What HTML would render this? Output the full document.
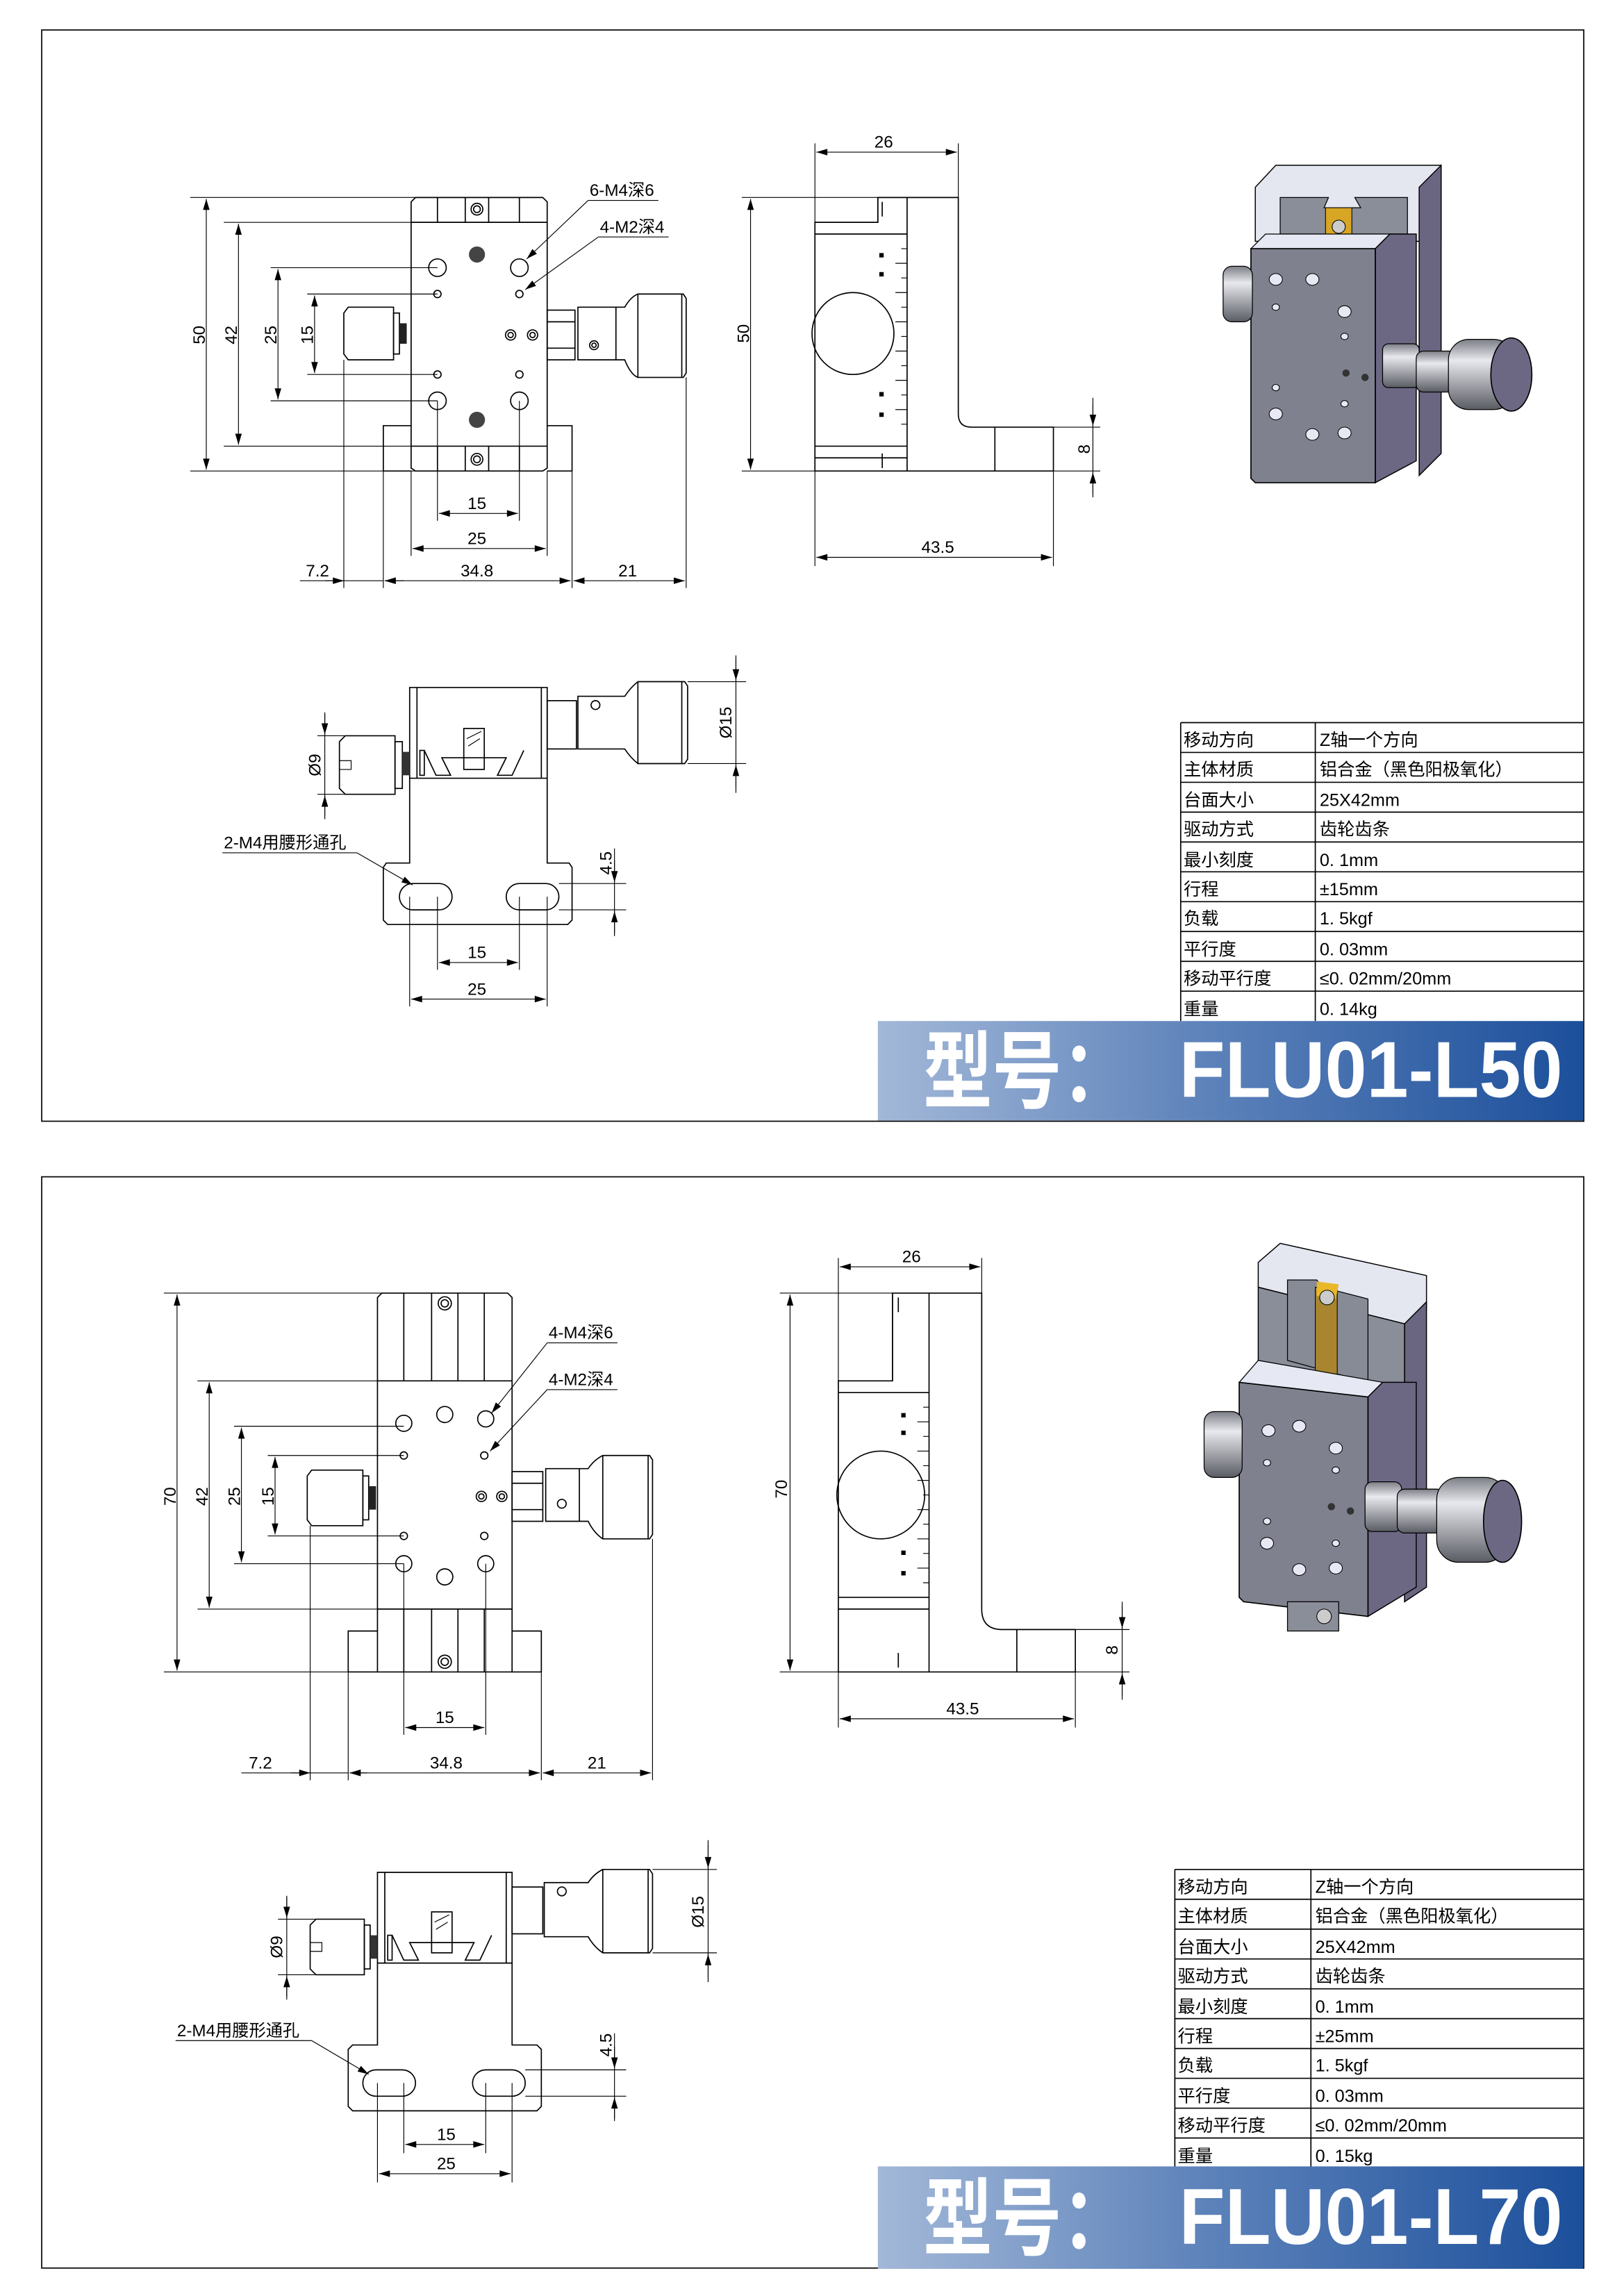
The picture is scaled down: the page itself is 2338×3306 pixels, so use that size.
<!DOCTYPE html>
<html><head><meta charset="utf-8"><style>
html,body{margin:0;padding:0;background:#fff;}
svg{display:block;}
.l{fill:none;stroke:#000;stroke-width:0.8;}
.t{stroke:#000;stroke-width:0.55;fill:none;}
.d{stroke:#000;stroke-width:0.55;fill:none;marker-start:url(#a);marker-end:url(#a);}
.tx{font-family:"Liberation Sans","Noto Sans CJK SC",sans-serif;font-size:11.5px;fill:#000;}
.tb{font-family:"Liberation Sans","Noto Sans CJK SC",sans-serif;font-size:12px;fill:#000;}
.bn{font-family:"Liberation Sans","Noto Sans CJK SC",sans-serif;font-weight:bold;fill:#fff;}
</style></head><body>
<svg width="2338" height="3306" viewBox="0 0 1110 1569.6" preserveAspectRatio="none" xmlns="http://www.w3.org/2000/svg">
<defs>
<marker id="a" viewBox="0 0 10 6" refX="10" refY="3" markerWidth="12" markerHeight="4.5" markerUnits="userSpaceOnUse" orient="auto-start-reverse"><path d="M10,3 L0,0 L0,6 Z" fill="#000"/></marker>
<linearGradient id="g" x1="0" x2="1" y1="0" y2="0"><stop offset="0" stop-color="#a3b8d8"/><stop offset="0.45" stop-color="#5f84bb"/><stop offset="1" stop-color="#1c4f9b"/></linearGradient>
<linearGradient id="kn" x1="0" x2="0" y1="0" y2="1"><stop offset="0" stop-color="#7c7e86"/><stop offset="0.3" stop-color="#e8e9ee"/><stop offset="1" stop-color="#5a5c64"/></linearGradient>
</defs>
<rect width="1110" height="1570" fill="#fff"/>

<!-- ================= FRAME 1 ================= -->
<rect x="28.5" y="20.5" width="1054" height="746" class="l"/>

<!-- front view 1 -->
<g>
<path class="l" d="M284,135 L371,135 L374,138 L374,320 L371,322 L284,322 L281,320 L281,138 Z"/>
<line class="l" x1="281" y1="152" x2="374" y2="152"/><line class="l" x1="281" y1="305" x2="374" y2="305"/>
<line class="l" x1="299" y1="135" x2="299" y2="152"/><line class="l" x1="318" y1="135" x2="318" y2="152"/><line class="l" x1="334" y1="135" x2="334" y2="152"/><line class="l" x1="355" y1="135" x2="355" y2="152"/>
<line class="l" x1="299" y1="305" x2="299" y2="322"/><line class="l" x1="318" y1="305" x2="318" y2="322"/><line class="l" x1="334" y1="305" x2="334" y2="322"/><line class="l" x1="355" y1="305" x2="355" y2="322"/>
<circle class="l" cx="326" cy="143" r="4"/><circle class="l" cx="326" cy="143" r="2.3"/>
<circle class="l" cx="326" cy="314" r="4"/><circle class="l" cx="326" cy="314" r="2.3"/>
<path class="l" d="M281,291 L262,291 L262,322 L281,322 M374,291 L391,291 L391,322 L374,322"/>
<circle class="l" cx="299" cy="183" r="6"/><circle class="l" cx="355" cy="183" r="6"/><circle class="l" cx="299" cy="274" r="6"/><circle class="l" cx="355" cy="274" r="6"/>
<circle class="l" cx="299" cy="201" r="2.5"/><circle class="l" cx="355" cy="201" r="2.5"/><circle class="l" cx="299" cy="256" r="2.5"/><circle class="l" cx="355" cy="256" r="2.5"/>
<circle cx="326" cy="174" r="5.5" fill="#444"/><circle cx="326" cy="287" r="5.5" fill="#444"/>
<circle class="l" cx="349" cy="229" r="3.5"/><circle class="l" cx="349" cy="229" r="1.8"/><circle class="l" cx="364" cy="229" r="3.5"/><circle class="l" cx="364" cy="229" r="1.8"/>
<path class="l" d="M238,210 L269,210 L269,246 L238,246 L235,242 L235,214 Z"/><rect class="l" x="269" y="214" width="4" height="28"/><rect x="273" y="221" width="5" height="14" fill="#222"/>
<rect class="l" x="374" y="212" width="19" height="34"/><line class="l" x1="374" y1="220" x2="393" y2="220"/><line class="l" x1="374" y1="238" x2="393" y2="238"/>
<path class="l" d="M395,210 L427,210 Q431,203 436,201 L467,201 L469,204 L469,255 L467,258 L436,258 Q431,256 427,246 L395,246 Z"/>
<line class="l" x1="436" y1="201" x2="436" y2="258"/><line class="l" x1="466" y1="201" x2="466" y2="258"/><line class="l" x1="421" y1="210" x2="421" y2="246"/>
<circle class="l" cx="406" cy="236" r="3"/><circle class="l" cx="406" cy="236" r="1.5"/>
<!-- dims -->
<line class="t" x1="130" y1="135" x2="284" y2="135"/><line class="t" x1="130" y1="322" x2="284" y2="322"/>
<line class="d" x1="141" y1="136" x2="141" y2="321"/>
<line class="t" x1="153" y1="152" x2="281" y2="152"/><line class="t" x1="153" y1="305" x2="281" y2="305"/>
<line class="d" x1="163" y1="153" x2="163" y2="304"/>
<line class="t" x1="185" y1="183" x2="299" y2="183"/><line class="t" x1="185" y1="274" x2="299" y2="274"/>
<line class="d" x1="190" y1="184" x2="190" y2="273"/>
<line class="t" x1="210" y1="201" x2="299" y2="201"/><line class="t" x1="210" y1="256" x2="299" y2="256"/>
<line class="d" x1="215" y1="202" x2="215" y2="255"/>
<text class="tx" transform="translate(140,229) rotate(-90)" text-anchor="middle">50</text>
<text class="tx" transform="translate(162,229) rotate(-90)" text-anchor="middle">42</text>
<text class="tx" transform="translate(189,229) rotate(-90)" text-anchor="middle">25</text>
<text class="tx" transform="translate(214,229) rotate(-90)" text-anchor="middle">15</text>
<line class="t" x1="299" y1="274" x2="299" y2="356"/><line class="t" x1="355" y1="274" x2="355" y2="356"/>
<line class="d" x1="300" y1="351" x2="354" y2="351"/><text class="tx" x="326" y="348" text-anchor="middle">15</text>
<line class="t" x1="281" y1="322" x2="281" y2="380"/><line class="t" x1="374" y1="322" x2="374" y2="380"/>
<line class="d" x1="282" y1="375" x2="373" y2="375"/><text class="tx" x="326" y="372" text-anchor="middle">25</text>
<line class="t" x1="235" y1="246" x2="235" y2="402"/><line class="t" x1="262" y1="322" x2="262" y2="402"/><line class="t" x1="391" y1="322" x2="391" y2="402"/><line class="t" x1="469" y1="258" x2="469" y2="402"/>
<line class="t" x1="205" y1="397" x2="262" y2="397"/><line class="d" style="marker-start:none" x1="222" y1="397" x2="235" y2="397"/><line class="d" style="marker-start:none" x1="276" y1="397" x2="263" y2="397"/>
<line class="d" x1="263" y1="397" x2="390" y2="397"/><line class="d" x1="392" y1="397" x2="468" y2="397"/>
<text class="tx" x="217" y="394" text-anchor="middle">7.2</text><text class="tx" x="326" y="394" text-anchor="middle">34.8</text><text class="tx" x="429" y="394" text-anchor="middle">21</text>
<line class="t" x1="402" y1="137" x2="450" y2="137"/><line class="d" style="marker-start:none" x1="402" y1="137" x2="360" y2="177"/>
<text class="tx" x="403" y="134">6-M4深6</text>
<line class="t" x1="409" y1="162" x2="457" y2="162"/><line class="d" style="marker-start:none" x1="409" y1="162" x2="359" y2="198"/>
<text class="tx" x="410" y="159">4-M2深4</text>
</g>

<!-- side view 1 -->
<g>
<path class="l" d="M557,152 L600,152 L600,135 L655,135 L655,283 Q655,292 664,292 L720,292 L720,322 L557,322 Z"/>
<line class="l" x1="557" y1="160" x2="620" y2="160"/><line class="l" x1="557" y1="305" x2="620" y2="305"/><line class="l" x1="557" y1="313" x2="620" y2="313"/>
<line class="l" x1="620" y1="135" x2="620" y2="322"/><line class="l" x1="600" y1="135" x2="600" y2="152"/>
<line class="l" x1="603" y1="138" x2="603" y2="148"/><line class="l" x1="603" y1="310" x2="603" y2="320"/>
<circle class="l" cx="583" cy="228" r="28"/>
<line class="l" x1="680" y1="292" x2="680" y2="322"/>
<path class="t" d="M616,170 L620,170 M612,180 L620,180 M616,190 L620,190 M612,200 L620,200 M616,210 L620,210 M612,220 L620,220 M616,230 L620,230 M612,240 L620,240 M616,250 L620,250 M612,260 L620,260 M616,270 L620,270 M612,280 L620,280 M616,290 L620,290"/>
<rect x="601" y="173" width="3" height="3" fill="#000"/><rect x="601" y="186" width="3" height="3" fill="#000"/><rect x="601" y="268" width="3" height="3" fill="#000"/><rect x="601" y="282" width="3" height="3" fill="#000"/>
<line class="t" x1="557" y1="98" x2="557" y2="152"/><line class="t" x1="655" y1="98" x2="655" y2="135"/>
<line class="d" x1="558" y1="104" x2="654" y2="104"/><text class="tx" x="604" y="101" text-anchor="middle">26</text>
<line class="t" x1="507" y1="135" x2="600" y2="135"/><line class="t" x1="507" y1="322" x2="557" y2="322"/>
<line class="d" x1="513" y1="136" x2="513" y2="321"/><text class="tx" transform="translate(512,228) rotate(-90)" text-anchor="middle">50</text>
<line class="t" x1="720" y1="292" x2="752" y2="292"/><line class="t" x1="720" y1="322" x2="752" y2="322"/>
<line class="t" x1="747" y1="272" x2="747" y2="340"/><line class="d" style="marker-start:none" x1="747" y1="276" x2="747" y2="291"/><line class="d" style="marker-start:none" x1="747" y1="338" x2="747" y2="323"/>
<text class="tx" transform="translate(745,307) rotate(-90)" text-anchor="middle">8</text>
<line class="t" x1="557" y1="322" x2="557" y2="387"/><line class="t" x1="720" y1="322" x2="720" y2="387"/>
<line class="d" x1="558" y1="381" x2="719" y2="381"/><text class="tx" x="641" y="378" text-anchor="middle">43.5</text>
</g>

<!-- top view 1 -->
<g>
<path class="l" d="M280,470 L374,470 L374,590 L389,590 L391,593 L391,629 L388,632 L265,632 L262,629 L262,593 L264,590 L280,590 Z"/>
<line class="l" x1="285" y1="470" x2="285" y2="532"/><line class="l" x1="370" y1="470" x2="370" y2="532"/>
<line class="l" x1="280" y1="532" x2="374" y2="532"/>
<rect class="l" x="273" y="604" width="36" height="18" rx="9"/><rect class="l" x="346" y="604" width="36" height="18" rx="9"/>
<path class="l" d="M290,513 L298,530 L308,530 L302,518 L346,518 L340,530 L350,530 L358,513"/>
<rect class="l" x="317" y="498" width="14" height="28"/><path class="t" d="M319,505 L329,500 M320,510 L328,505"/>
<rect class="l" x="287" y="513" width="3" height="17"/>
<path class="l" d="M236,503 L270,503 L270,543 L236,543 L232,539 L232,507 Z"/><path class="t" d="M232,520 L240,520 L240,526 L232,526"/><rect class="l" x="270" y="507" width="5" height="32"/><rect x="275" y="514" width="5" height="16" fill="#333"/>
<rect class="l" x="374" y="479" width="20" height="33"/>
<path class="l" d="M395,476 L427,476 Q431,470 436,466 L468,466 L470,469 L470,519 L468,522 L436,522 Q431,518 427,512 L395,512 Z"/>
<line class="l" x1="436" y1="466" x2="436" y2="522"/><line class="l" x1="466" y1="466" x2="466" y2="522"/>
<circle class="l" cx="407" cy="482" r="3"/>
<line class="t" x1="470" y1="466" x2="510" y2="466"/><line class="t" x1="470" y1="522" x2="510" y2="522"/>
<line class="t" x1="503" y1="448" x2="503" y2="542"/><line class="d" style="marker-start:none" x1="503" y1="450" x2="503" y2="465"/><line class="d" style="marker-start:none" x1="503" y1="538" x2="503" y2="523"/>
<text class="tx" transform="translate(500,494) rotate(-90)" text-anchor="middle">Ø15</text>
<line class="t" x1="217" y1="503" x2="236" y2="503"/><line class="t" x1="217" y1="543" x2="236" y2="543"/>
<line class="t" x1="222" y1="487" x2="222" y2="560"/><line class="d" style="marker-start:none" x1="222" y1="488" x2="222" y2="502"/><line class="d" style="marker-start:none" x1="222" y1="558" x2="222" y2="544"/>
<text class="tx" transform="translate(219,523) rotate(-90)" text-anchor="middle">Ø9</text>
<line class="t" x1="382" y1="604" x2="428" y2="604"/><line class="t" x1="382" y1="622" x2="428" y2="622"/>
<line class="t" x1="420" y1="580" x2="420" y2="640"/><line class="d" style="marker-start:none" x1="420" y1="588" x2="420" y2="603"/><line class="d" style="marker-start:none" x1="420" y1="638" x2="420" y2="623"/>
<text class="tx" transform="translate(418,590) rotate(-90)" text-anchor="middle">4.5</text>
<line class="t" x1="280" y1="613" x2="280" y2="688"/><line class="t" x1="299" y1="613" x2="299" y2="663"/><line class="t" x1="355" y1="613" x2="355" y2="663"/><line class="t" x1="374" y1="613" x2="374" y2="688"/>
<line class="d" x1="300" y1="658" x2="354" y2="658"/><text class="tx" x="326" y="655" text-anchor="middle">15</text>
<line class="d" x1="281" y1="683" x2="373" y2="683"/><text class="tx" x="326" y="680" text-anchor="middle">25</text>
<line class="t" x1="152" y1="583" x2="244" y2="583"/><line class="d" style="marker-start:none" x1="244" y1="583" x2="282" y2="605"/>
<text class="tx" x="153" y="580">2-M4用腰形通孔</text>
</g>

<!-- 3D model 1 -->
<g>
<polygon points="858,128 872,113 985,113 985,165 858,165" fill="#e4e6f0" stroke="#000" stroke-width="0.7"/>
<polygon points="970,128 985,113 985,310 970,325" fill="#6a6580" stroke="#000" stroke-width="0.7"/>
<polygon points="875,135 908,135 905,142 930,142 926,135 962,135 962,160 875,160" fill="#8a8e99" stroke="#000" stroke-width="0.6"/>
<rect x="906" y="142" width="18" height="22" fill="#d8a625" stroke="#000" stroke-width="0.5"/>
<circle cx="915" cy="155" r="4.5" fill="#ccc" stroke="#000" stroke-width="0.5"/>
<polygon points="855,170 865,160 950,160 940,170" fill="#e6e8f4" stroke="#000" stroke-width="0.6"/>
<polygon points="940,170 950,160 968,160 968,315 940,330" fill="#6c6884" stroke="#000" stroke-width="0.7"/>
<polygon points="855,170 940,170 940,330 858,330 855,327" fill="#7f828e" stroke="#000" stroke-width="0.8"/>
<rect x="836" y="182" width="20" height="38" rx="6" fill="url(#kn)" stroke="#000" stroke-width="0.6"/>
<g fill="#e7e8f4" stroke="#000" stroke-width="0.5">
<ellipse cx="872" cy="191" rx="4.5" ry="4"/><ellipse cx="897" cy="191" rx="4.5" ry="4"/><ellipse cx="919" cy="213" rx="4.5" ry="4"/>
<ellipse cx="872" cy="210" rx="2.5" ry="2.2"/><ellipse cx="919" cy="230" rx="2.5" ry="2.2"/>
<ellipse cx="872" cy="265" rx="2.5" ry="2.2"/><ellipse cx="919" cy="276" rx="2.5" ry="2.2"/>
<ellipse cx="872" cy="283" rx="4.5" ry="4"/><ellipse cx="897" cy="297" rx="4.5" ry="4"/><ellipse cx="919" cy="296" rx="4.5" ry="4"/>
</g>
<circle cx="920" cy="255" r="2.5" fill="#333"/><circle cx="933" cy="258" r="2.5" fill="#333"/>
<rect x="945" y="235" width="25" height="30" rx="4" fill="url(#kn)" stroke="#000" stroke-width="0.6"/>
<rect x="968" y="240" width="30" height="28" rx="5" fill="url(#kn)" stroke="#000" stroke-width="0.6"/>
<rect x="990" y="232" width="45" height="48" rx="14" fill="url(#kn)" stroke="#000" stroke-width="0.6"/>
<ellipse cx="1033" cy="256" rx="14" ry="25" fill="#6c6884" stroke="#000" stroke-width="0.8"/>
</g>

<!-- table 1 -->
<g>
<path class="t" style="stroke-width:0.8" d="M807,494 H1082 M807,514.4 H1082 M807,534.8 H1082 M807,555.2 H1082 M807,575.6 H1082 M807,596 H1082 M807,616.4 H1082 M807,636.8 H1082 M807,657.2 H1082 M807,677.6 H1082 M807,494 V698 M899,494 V698"/>
<g class="tb">
<text x="809" y="510">移动方向</text><text x="902" y="510">Z轴一个方向</text>
<text x="809" y="530">主体材质</text><text x="902" y="530">铝合金（黑色阳极氧化）</text>
<text x="809" y="551">台面大小</text><text x="902" y="551">25X42mm</text>
<text x="809" y="571">驱动方式</text><text x="902" y="571">齿轮齿条</text>
<text x="809" y="592">最小刻度</text><text x="902" y="592">0. 1mm</text>
<text x="809" y="612">行程</text><text x="902" y="612">±15mm</text>
<text x="809" y="632">负载</text><text x="902" y="632">1. 5kgf</text>
<text x="809" y="653">平行度</text><text x="902" y="653">0. 03mm</text>
<text x="809" y="673">移动平行度</text><text x="902" y="673">≤0. 02mm/20mm</text>
<text x="809" y="694">重量</text><text x="902" y="694">0. 14kg</text>
</g>
<rect x="600" y="698" width="482" height="68" fill="url(#g)"/>
<text class="bn" x="631" y="753" font-size="58" textLength="142" lengthAdjust="spacingAndGlyphs">型号：</text>
<text class="bn" x="806" y="750" font-size="54" textLength="262" lengthAdjust="spacingAndGlyphs">FLU01-L50</text>
</g>

<!-- ================= FRAME 2 ================= -->
<rect x="28.5" y="804.5" width="1054" height="746" class="l"/>

<!-- front view 2 -->
<g>
<path class="l" d="M261,884 L347,884 L350,887 L350,1143 L258,1143 L258,887 Z"/>
<line class="l" x1="258" y1="944" x2="350" y2="944"/><line class="l" x1="258" y1="1100" x2="350" y2="1100"/>
<line class="l" x1="276" y1="884" x2="276" y2="944"/><line class="l" x1="295" y1="884" x2="295" y2="944"/><line class="l" x1="313" y1="884" x2="313" y2="944"/><line class="l" x1="331" y1="884" x2="331" y2="944"/>
<line class="l" x1="276" y1="1100" x2="276" y2="1143"/><line class="l" x1="295" y1="1100" x2="295" y2="1143"/><line class="l" x1="313" y1="1100" x2="313" y2="1143"/><line class="l" x1="331" y1="1100" x2="331" y2="1143"/>
<circle class="l" cx="304" cy="891" r="4.5"/><circle class="l" cx="304" cy="891" r="2.5"/>
<circle class="l" cx="304" cy="1136" r="4.5"/><circle class="l" cx="304" cy="1136" r="2.5"/>
<path class="l" d="M258,1115 L238,1115 L238,1143 L258,1143 M350,1115 L370,1115 L370,1143 L350,1143"/>
<circle class="l" cx="276" cy="973" r="5.5"/><circle class="l" cx="332" cy="970" r="5.5"/><circle class="l" cx="304" cy="967" r="5.5"/>
<circle class="l" cx="276" cy="1069" r="5.5"/><circle class="l" cx="332" cy="1069" r="5.5"/><circle class="l" cx="304" cy="1078" r="5.5"/>
<circle class="l" cx="276" cy="995" r="2.5"/><circle class="l" cx="331" cy="995" r="2.5"/><circle class="l" cx="276" cy="1050" r="2.5"/><circle class="l" cx="331" cy="1050" r="2.5"/>
<circle class="l" cx="329" cy="1023" r="3.5"/><circle class="l" cx="329" cy="1023" r="1.8"/><circle class="l" cx="343" cy="1023" r="3.5"/><circle class="l" cx="343" cy="1023" r="1.8"/>
<path class="l" d="M213,1005 L248,1005 L248,1043 L213,1043 L210,1039 L210,1009 Z"/><rect class="l" x="248" y="1009" width="4" height="30"/><rect x="252" y="1016" width="5" height="16" fill="#222"/>
<rect class="l" x="350" y="1006" width="21" height="34"/><line class="l" x1="350" y1="1014" x2="371" y2="1014"/><line class="l" x1="350" y1="1032" x2="371" y2="1032"/>
<path class="l" d="M373,1004 L402,1004 Q406,998 412,995 L444,995 L446,998 L446,1049 L444,1052 L412,1052 Q406,1048 402,1040 L373,1040 Z"/>
<line class="l" x1="412" y1="995" x2="412" y2="1052"/><line class="l" x1="443" y1="995" x2="443" y2="1052"/><line class="l" x1="396" y1="1004" x2="396" y2="1040"/>
<circle class="l" cx="384" cy="1028" r="3"/>
<line class="t" x1="112" y1="884" x2="261" y2="884"/><line class="t" x1="112" y1="1143" x2="258" y2="1143"/>
<line class="d" x1="121" y1="885" x2="121" y2="1142"/>
<line class="t" x1="135" y1="944" x2="258" y2="944"/><line class="t" x1="135" y1="1100" x2="258" y2="1100"/>
<line class="d" x1="143" y1="945" x2="143" y2="1099"/>
<line class="t" x1="160" y1="975" x2="276" y2="975"/><line class="t" x1="160" y1="1069" x2="276" y2="1069"/>
<line class="d" x1="165" y1="976" x2="165" y2="1068"/>
<line class="t" x1="183" y1="995" x2="276" y2="995"/><line class="t" x1="183" y1="1050" x2="276" y2="1050"/>
<line class="d" x1="188" y1="996" x2="188" y2="1049"/>
<text class="tx" transform="translate(120,1023) rotate(-90)" text-anchor="middle">70</text>
<text class="tx" transform="translate(142,1023) rotate(-90)" text-anchor="middle">42</text>
<text class="tx" transform="translate(164,1023) rotate(-90)" text-anchor="middle">25</text>
<text class="tx" transform="translate(187,1023) rotate(-90)" text-anchor="middle">15</text>
<line class="t" x1="276" y1="1069" x2="276" y2="1186"/><line class="t" x1="332" y1="1069" x2="332" y2="1186"/>
<line class="d" x1="277" y1="1181" x2="331" y2="1181"/><text class="tx" x="304" y="1178" text-anchor="middle">15</text>
<line class="t" x1="212" y1="1043" x2="212" y2="1217"/><line class="t" x1="238" y1="1143" x2="238" y2="1217"/><line class="t" x1="370" y1="1143" x2="370" y2="1217"/><line class="t" x1="446" y1="1052" x2="446" y2="1217"/>
<line class="t" x1="165" y1="1212" x2="238" y2="1212"/><line class="d" style="marker-start:none" x1="199" y1="1212" x2="212" y2="1212"/><line class="d" style="marker-start:none" x1="251" y1="1212" x2="239" y2="1212"/>
<line class="d" x1="239" y1="1212" x2="369" y2="1212"/><line class="d" x1="371" y1="1212" x2="445" y2="1212"/>
<text class="tx" x="178" y="1209" text-anchor="middle">7.2</text><text class="tx" x="305" y="1209" text-anchor="middle">34.8</text><text class="tx" x="408" y="1209" text-anchor="middle">21</text>
<line class="t" x1="374" y1="918" x2="422" y2="918"/><line class="d" style="marker-start:none" x1="374" y1="918" x2="336" y2="966"/>
<text class="tx" x="375" y="915">4-M4深6</text>
<line class="t" x1="374" y1="950" x2="422" y2="950"/><line class="d" style="marker-start:none" x1="374" y1="950" x2="335" y2="992"/>
<text class="tx" x="375" y="947">4-M2深4</text>
</g>

<!-- side view 2 -->
<g>
<path class="l" d="M573,944 L610,944 L610,884 L671,884 L671,1100 Q671,1114 685,1114 L735,1114 L735,1143 L573,1143 Z"/>
<line class="l" x1="573" y1="952" x2="635" y2="952"/><line class="l" x1="573" y1="1092" x2="635" y2="1092"/><line class="l" x1="573" y1="1100" x2="635" y2="1100"/>
<line class="l" x1="635" y1="884" x2="635" y2="1143"/><line class="l" x1="610" y1="884" x2="610" y2="944"/>
<line class="l" x1="614" y1="887" x2="614" y2="897"/><line class="l" x1="614" y1="1130" x2="614" y2="1140"/>
<circle class="l" cx="602" cy="1022" r="30"/>
<line class="l" x1="695" y1="1114" x2="695" y2="1143"/>
<path class="t" d="M631,962 L635,962 M627,972 L635,972 M631,982 L635,982 M627,992 L635,992 M631,1002 L635,1002 M627,1012 L635,1012 M631,1022 L635,1022 M627,1032 L635,1032 M631,1042 L635,1042 M627,1052 L635,1052 M631,1062 L635,1062 M627,1072 L635,1072 M631,1082 L635,1082"/>
<rect x="616" y="966" width="3" height="3" fill="#000"/><rect x="616" y="978" width="3" height="3" fill="#000"/><rect x="616" y="1060" width="3" height="3" fill="#000"/><rect x="616" y="1074" width="3" height="3" fill="#000"/>
<line class="t" x1="573" y1="860" x2="573" y2="944"/><line class="t" x1="671" y1="860" x2="671" y2="884"/>
<line class="d" x1="574" y1="866" x2="670" y2="866"/><text class="tx" x="623" y="863" text-anchor="middle">26</text>
<line class="t" x1="533" y1="884" x2="610" y2="884"/><line class="t" x1="533" y1="1143" x2="573" y2="1143"/>
<line class="d" x1="540" y1="885" x2="540" y2="1142"/><text class="tx" transform="translate(538,1018) rotate(-90)" text-anchor="middle">70</text>
<line class="t" x1="735" y1="1114" x2="772" y2="1114"/><line class="t" x1="735" y1="1143" x2="772" y2="1143"/>
<line class="t" x1="767" y1="1095" x2="767" y2="1162"/><line class="d" style="marker-start:none" x1="767" y1="1098" x2="767" y2="1113"/><line class="d" style="marker-start:none" x1="767" y1="1159" x2="767" y2="1144"/>
<text class="tx" transform="translate(764,1128) rotate(-90)" text-anchor="middle">8</text>
<line class="t" x1="573" y1="1143" x2="573" y2="1181"/><line class="t" x1="735" y1="1143" x2="735" y2="1181"/>
<line class="d" x1="574" y1="1175" x2="734" y2="1175"/><text class="tx" x="658" y="1172" text-anchor="middle">43.5</text>
</g>

<!-- top view 2 -->
<g>
<path class="l" d="M258,1280 L350,1280 L350,1398 L367,1398 L370,1401 L370,1440 L367,1443 L241,1443 L238,1440 L238,1401 L241,1398 L258,1398 Z"/>
<line class="l" x1="263" y1="1280" x2="263" y2="1342"/><line class="l" x1="346" y1="1280" x2="346" y2="1342"/>
<line class="l" x1="258" y1="1342" x2="350" y2="1342"/>
<rect class="l" x="248" y="1415" width="36" height="18" rx="9"/><rect class="l" x="323" y="1415" width="36" height="18" rx="9"/>
<path class="l" d="M268,1323 L276,1340 L286,1340 L280,1328 L324,1328 L318,1340 L328,1340 L336,1323"/>
<rect class="l" x="295" y="1307" width="14" height="28"/><path class="t" d="M297,1314 L307,1309 M298,1319 L306,1314"/>
<rect class="l" x="265" y="1323" width="3" height="17"/>
<path class="l" d="M216,1312 L249,1312 L249,1350 L216,1350 L212,1346 L212,1316 Z"/><path class="t" d="M212,1328 L220,1328 L220,1334 L212,1334"/><rect class="l" x="249" y="1316" width="4" height="30"/><rect x="253" y="1323" width="5" height="16" fill="#333"/>
<rect class="l" x="350" y="1290" width="21" height="32"/>
<path class="l" d="M372,1287 L402,1287 Q406,1281 412,1278 L444,1278 L446,1281 L446,1332 L444,1335 L412,1335 Q406,1331 402,1324 L372,1324 Z"/>
<line class="l" x1="412" y1="1278" x2="412" y2="1335"/><line class="l" x1="443" y1="1278" x2="443" y2="1335"/>
<circle class="l" cx="384" cy="1293" r="3"/>
<line class="t" x1="446" y1="1278" x2="490" y2="1278"/><line class="t" x1="446" y1="1335" x2="490" y2="1335"/>
<line class="t" x1="484" y1="1258" x2="484" y2="1355"/><line class="d" style="marker-start:none" x1="484" y1="1261" x2="484" y2="1277"/><line class="d" style="marker-start:none" x1="484" y1="1352" x2="484" y2="1336"/>
<text class="tx" transform="translate(481,1307) rotate(-90)" text-anchor="middle">Ø15</text>
<line class="t" x1="190" y1="1312" x2="216" y2="1312"/><line class="t" x1="190" y1="1350" x2="216" y2="1350"/>
<line class="t" x1="196" y1="1296" x2="196" y2="1367"/><line class="d" style="marker-start:none" x1="196" y1="1297" x2="196" y2="1311"/><line class="d" style="marker-start:none" x1="196" y1="1365" x2="196" y2="1351"/>
<text class="tx" transform="translate(193,1331) rotate(-90)" text-anchor="middle">Ø9</text>
<line class="t" x1="359" y1="1415" x2="428" y2="1415"/><line class="t" x1="359" y1="1433" x2="428" y2="1433"/>
<line class="t" x1="420" y1="1390" x2="420" y2="1450"/><line class="d" style="marker-start:none" x1="420" y1="1399" x2="420" y2="1414"/><line class="d" style="marker-start:none" x1="420" y1="1448" x2="420" y2="1434"/>
<text class="tx" transform="translate(418,1398) rotate(-90)" text-anchor="middle">4.5</text>
<line class="t" x1="258" y1="1424" x2="258" y2="1492"/><line class="t" x1="276" y1="1424" x2="276" y2="1472"/><line class="t" x1="332" y1="1424" x2="332" y2="1472"/><line class="t" x1="350" y1="1424" x2="350" y2="1492"/>
<line class="d" x1="277" y1="1466" x2="331" y2="1466"/><text class="tx" x="305" y="1463" text-anchor="middle">15</text>
<line class="d" x1="259" y1="1486" x2="349" y2="1486"/><text class="tx" x="305" y="1483" text-anchor="middle">25</text>
<line class="t" x1="120" y1="1395" x2="213" y2="1395"/><line class="d" style="marker-start:none" x1="213" y1="1395" x2="252" y2="1418"/>
<text class="tx" x="121" y="1392">2-M4用腰形通孔</text>
</g>

<!-- 3D model 2 -->
<g>
<polygon points="860,863 875,850 975,872 975,895 960,905 860,880" fill="#e4e6f0" stroke="#000" stroke-width="0.7"/>
<polygon points="960,905 975,890 975,1085 960,1095" fill="#6a6580" stroke="#000" stroke-width="0.7"/>
<polygon points="860,880 960,905 960,1000 860,1000" fill="#8a8e99" stroke="#000" stroke-width="0.7"/>
<polygon points="880,875 900,875 904,880 935,888 935,945 880,930" fill="#878b96" stroke="#000" stroke-width="0.6"/>
<rect x="899" y="880" width="15" height="65" fill="#a8852e" stroke="#000" stroke-width="0.5"/>
<polygon points="900,876 915,878 913,888 900,886" fill="#e8b82a"/>
<circle cx="907" cy="887" r="5" fill="#ccc" stroke="#000" stroke-width="0.5"/>
<polygon points="847,945 860,930 945,945 935,955" fill="#e6e8f4" stroke="#000" stroke-width="0.6"/>
<polygon points="935,955 945,945 968,945 968,1085 935,1105" fill="#6c6884" stroke="#000" stroke-width="0.7"/>
<polygon points="847,945 935,955 935,1105 850,1095 847,1092" fill="#7f828e" stroke="#000" stroke-width="0.8"/>
<rect x="880" y="1095" width="35" height="20" fill="#8a8e99" stroke="#000" stroke-width="0.6"/>
<circle cx="905" cy="1105" r="5" fill="#ccc" stroke="#000" stroke-width="0.5"/>
<rect x="823" y="965" width="26" height="45" rx="7" fill="url(#kn)" stroke="#000" stroke-width="0.6"/>
<g fill="#e7e8f4" stroke="#000" stroke-width="0.5">
<ellipse cx="867" cy="978" rx="4.5" ry="4"/><ellipse cx="888" cy="975" rx="4.5" ry="4"/><ellipse cx="913" cy="990" rx="4.5" ry="4"/>
<ellipse cx="866" cy="1000" rx="2.5" ry="2.2"/><ellipse cx="913" cy="1005" rx="2.5" ry="2.2"/>
<ellipse cx="866" cy="1040" rx="2.5" ry="2.2"/><ellipse cx="913" cy="1055" rx="2.5" ry="2.2"/>
<ellipse cx="866" cy="1055" rx="4.5" ry="4"/><ellipse cx="888" cy="1073" rx="4.5" ry="4"/><ellipse cx="913" cy="1072" rx="4.5" ry="4"/>
</g>
<circle cx="910" cy="1030" r="2.5" fill="#333"/><circle cx="923" cy="1033" r="2.5" fill="#333"/>
<rect x="933" y="1013" width="25" height="34" rx="5" fill="url(#kn)" stroke="#000" stroke-width="0.6"/>
<rect x="955" y="1018" width="32" height="30" rx="5" fill="url(#kn)" stroke="#000" stroke-width="0.6"/>
<rect x="982" y="1010" width="48" height="58" rx="15" fill="url(#kn)" stroke="#000" stroke-width="0.6"/>
<ellipse cx="1027" cy="1040" rx="13" ry="28" fill="#6c6884" stroke="#000" stroke-width="0.8"/>
</g>

<!-- table 2 -->
<g>
<path class="t" style="stroke-width:0.8" d="M803,1278 H1082 M803,1298.4 H1082 M803,1318.8 H1082 M803,1339.2 H1082 M803,1359.6 H1082 M803,1380 H1082 M803,1400.4 H1082 M803,1420.8 H1082 M803,1441.2 H1082 M803,1461.6 H1082 M803,1278 V1482 M896,1278 V1482"/>
<g class="tb">
<text x="805" y="1294">移动方向</text><text x="899" y="1294">Z轴一个方向</text>
<text x="805" y="1314">主体材质</text><text x="899" y="1314">铝合金（黑色阳极氧化）</text>
<text x="805" y="1335">台面大小</text><text x="899" y="1335">25X42mm</text>
<text x="805" y="1355">驱动方式</text><text x="899" y="1355">齿轮齿条</text>
<text x="805" y="1376">最小刻度</text><text x="899" y="1376">0. 1mm</text>
<text x="805" y="1396">行程</text><text x="899" y="1396">±25mm</text>
<text x="805" y="1416">负载</text><text x="899" y="1416">1. 5kgf</text>
<text x="805" y="1437">平行度</text><text x="899" y="1437">0. 03mm</text>
<text x="805" y="1457">移动平行度</text><text x="899" y="1457">≤0. 02mm/20mm</text>
<text x="805" y="1478">重量</text><text x="899" y="1478">0. 15kg</text>
</g>
<rect x="600" y="1481" width="482" height="70" fill="url(#g)"/>
<text class="bn" x="631" y="1537" font-size="58" textLength="142" lengthAdjust="spacingAndGlyphs">型号：</text>
<text class="bn" x="806" y="1534" font-size="54" textLength="262" lengthAdjust="spacingAndGlyphs">FLU01-L70</text>
</g>
</svg>
</body></html>
